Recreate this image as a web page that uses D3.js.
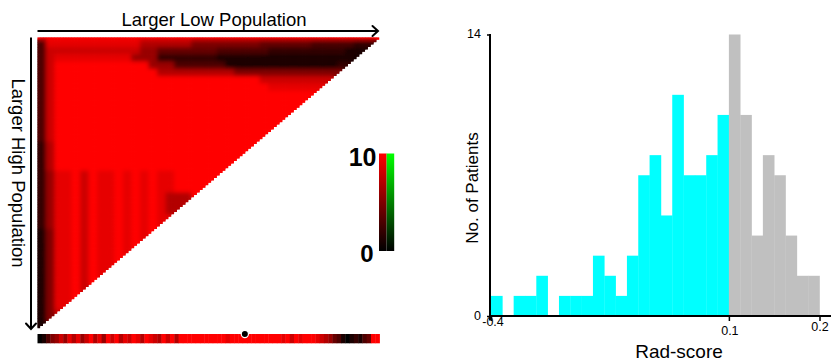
<!DOCTYPE html>
<html>
<head>
<meta charset="utf-8">
<script src="https://cdn.jsdelivr.net/npm/d3@7"></script>
<style>
  html, body { margin: 0; padding: 0; background: #fff; }
  svg { display: block; }
  svg text { font-family: 'Liberation Sans', Arial, sans-serif; }
</style>
</head>
<body>
<svg id="chart" width="832" height="364"></svg>
<script>
// ---- heatmap data (values 0-10), fine matrix 120 x 120 stored as 3x3 blocks ----
// each string is a run-length row: "v" or "v*count"
const heatTopRow = '10*40';
const heatRows = [
  '3 9*11 7*6 5*8 4*6 3*5 2*3',
  '3 8*11 6*2 4*7 3*6 2*9 1*3',
  '3 8 9*9 6*3 2*7 1*17',
  '3 8 10*11 6*3 3*6 1*13 2*2',
  '3 8 10*12 7*9 5*13',
  '3 8 10*24 8*9',
  '3 8 10*25 9*7',
  '3 8 10*31',
  '3 8 10*30',
  '3 8 10*29',
  '3 8 10*28',
  '3 8 10*27',
  '3 8 10*26',
  '3 8 10*25',
  '2 7 10*24',
  '2 7 10*23',
  '2 7 10*22',
  '2 7 10*21',
  '2 6 9 9 10 8 10 9 9 10 9 10 9 10 9 9 10 10*5',
  '2 6 9 9 10 8 10 9 9 10 9 10 9 10 9 9 10 10*4',
  '2 6 9 9 10 8 10 9 9 10 9 10 9 10 9 9 10 10*3',
  '2 6 9 9 10 8 10 9 9 10 9 10 9 10 9 7 7 7 10',
  '2 6 9 9 10 8 10 9 9 10 9 10 9 10 9 7 7 7',
  '2 6 9 9 10 8 10 9 9 10 9 10 9 10 9 7 7',
  '2 6 9 9 10 8 10 9 9 10 9 10 9 10 9 9',
  '2 6 9 9 10 8 10 9 9 10 9 10 9 10 9',
  '1 5 9 9 10 8 10 9 9 10 9 10 9 10',
  '1 5 9 9 10 8 10 9 9 10 9 10 9',
  '1 5 9 9 10 8 10 9 9 10 9 10',
  '1 5 9 9 10 8 10 9 9 10 9',
  '1 5 9 9 10 8 10 9 9 10',
  '1 5 9 9 10 8 10 9 9',
  '1 5 9 9 10 8 10 9',
  '1 5 9 9 10 8 10',
  '1 5 9 9 10 8',
  '1 5 9 9 10',
  '1 5 9 9',
  '1 5 8',
  '1 5',
  '1'
];

// one-dimensional strip under the triangle
const stripValues = [
  0, 1, 3, 5, 6, 8, 6, 9, 7, 9,
  6, 8, 10, 7, 9, 6, 10, 8, 10, 7,
  9, 8, 10, 9, 7, 10, 9, 8, 7, 10,
  8, 10, 7, 10, 10, 10, 10, 10, 10, 10,
  10, 10, 10, 10, 9, 10, 10, 10, 10, 10,
  10, 10, 10, 10, 10, 10, 10, 9, 10, 8,
  10, 9, 10, 10, 10, 9, 8, 7, 6, 4,
  3, 1, 0, 1, 2, 1, 3, 4, 10, 10
];
const bestCutIndex = 48;
const colorbarLabels = ['10', '0'];

// ---- histogram data ----
const lowRiskCounts = [1, 0, 1, 1, 2, 0, 1, 1, 1, 3, 2, 1, 3, 7, 8, 5, 11, 7, 7, 8, 10];
const highRiskCounts = [14, 10, 4, 8, 7, 4, 2, 2];
const radTickIndex = [0, 21, 29];
const radTickLabels = ['-0.4', '0.1', '0.2'];
const countTicks = [0, 14];

function expandRow(spec) {
  const out = [];
  spec.trim().split(/\s+/).forEach((token) => {
    const parts = token.split('*');
    const n = parts[1] ? Number(parts[1]) : 1;
    for (let k = 0; k < n; k++) out.push(Number(parts[0]));
  });
  return out;
}

const svg = d3.select('#chart');
const color = d3.scaleLinear().domain([0, 10]).range(['#000000', '#ff0000']);

// ===== left panel: triangle heatmap =====
const N = 120;
const block = 3;
const hxCell = d3.scaleLinear().domain([0, N]).range([37.3, 379.3]);
const hyCell = d3.scaleLinear().domain([0, N]).range([37.3, 328.3]);

const topRow = expandRow(heatTopRow);
const coarse = heatRows.map(expandRow);
const cells = [];
for (let i = 0; i < N; i++) {
  for (let j = 0; j < N - i; j++) {
    const v = i === 0 ? topRow[Math.floor(j / block)] : (coarse[Math.floor((i - 1) / block)] || [])[Math.floor(j / block)];
    if (v !== undefined) cells.push({ i, j, v });
  }
}

const defs = svg.append('defs');
const triPts = [[hxCell(0), hyCell(0)]];
for (let i = 0; i < N; i++) {
  triPts.push([hxCell(N - i), hyCell(i)], [hxCell(N - i), hyCell(i + 1)]);
}
triPts.push([hxCell(0), hyCell(N)]);
defs.append('clipPath').attr('id', 'tri-clip')
  .append('polygon').attr('points', triPts.map((p) => p.join(',')).join(' '));
defs.append('filter').attr('id', 'soft')
  .attr('x', '-5%').attr('y', '-5%').attr('width', '110%').attr('height', '110%')
  .append('feGaussianBlur').attr('stdDeviation', 2.2);

function drawCells(parent) {
  parent.selectAll('rect')
    .data(cells)
    .enter()
    .append('rect')
    .attr('x', (d) => hxCell(d.j))
    .attr('y', (d) => hyCell(d.i))
    .attr('width', hxCell(1) - hxCell(0) + 0.4)
    .attr('height', hyCell(1) - hyCell(0) + 0.4)
    .attr('fill', (d) => color(d.v));
}

const heat = svg.append('g').attr('clip-path', 'url(#tri-clip)');
drawCells(heat.append('g'));
drawCells(heat.append('g').attr('filter', 'url(#soft)'));

// strip
const sx = d3.scaleLinear().domain([0, stripValues.length]).range([37.5, 379.5]);
const strip = svg.append('g');
strip.selectAll('rect')
  .data(stripValues)
  .enter()
  .append('rect')
  .attr('x', (d, k) => sx(k))
  .attr('y', 334)
  .attr('width', sx(1) - sx(0) + 0.4)
  .attr('height', 9.3)
  .attr('fill', (d) => color(d));

svg.append('circle')
  .attr('cx', sx(bestCutIndex + 0.5))
  .attr('cy', 334)
  .attr('r', 3.6)
  .attr('fill', '#000')
  .attr('stroke', '#fff')
  .attr('stroke-width', 1.2);

// arrows
svg.append('line').attr('x1', 37.5).attr('y1', 31).attr('x2', 378).attr('y2', 31)
  .attr('stroke', '#000').attr('stroke-width', 2);
svg.append('path').attr('d', 'M372.5,26 L378,31 L372.5,36')
  .attr('fill', 'none').attr('stroke', '#000').attr('stroke-width', 2).attr('stroke-linecap', 'round');
svg.append('line').attr('x1', 31).attr('y1', 37.5).attr('x2', 31).attr('y2', 329)
  .attr('stroke', '#000').attr('stroke-width', 2);
svg.append('path').attr('d', 'M26,323.5 L31,329 L36,323.5')
  .attr('fill', 'none').attr('stroke', '#000').attr('stroke-width', 2).attr('stroke-linecap', 'round');

svg.append('text')
  .attr('x', 214).attr('y', 25.5)
  .attr('text-anchor', 'middle')
  .attr('font-size', 18.5)
  .text('Larger Low Population');
svg.append('text')
  .attr('transform', 'translate(11.5,173) rotate(90)')
  .attr('text-anchor', 'middle')
  .attr('font-size', 18.5)
  .text('Larger High Population');

// colour bar
const cbY = d3.scaleLinear().domain([0, 10]).range([251, 153.5]);
[['cb-red', '#ff0000'], ['cb-green', '#00ff00']].forEach(([id, top]) => {
  const grad = defs.append('linearGradient').attr('id', id)
    .attr('x1', 0).attr('y1', 1).attr('x2', 0).attr('y2', 0);
  grad.append('stop').attr('offset', 0).attr('stop-color', '#000');
  grad.append('stop').attr('offset', 1).attr('stop-color', top);
});
svg.append('rect').attr('x', 379).attr('y', cbY(10)).attr('width', 7.6)
  .attr('height', cbY(0) - cbY(10)).attr('fill', 'url(#cb-red)');
svg.append('rect').attr('x', 386.6).attr('y', cbY(10)).attr('width', 7.6)
  .attr('height', cbY(0) - cbY(10)).attr('fill', 'url(#cb-green)');
svg.append('text').attr('x', 376.5).attr('y', cbY(10) + 12.5)
  .attr('text-anchor', 'end').attr('font-size', 25).attr('font-weight', 'bold')
  .attr('font-family', 'Liberation Sans, Arial, sans-serif')
  .text(colorbarLabels[0]);
svg.append('text').attr('x', 373.5).attr('y', cbY(0) + 11)
  .attr('text-anchor', 'end').attr('font-size', 24).attr('font-weight', 'bold')
  .attr('font-family', 'Liberation Sans, Arial, sans-serif')
  .text(colorbarLabels[1]);

// ===== right panel: histogram =====
const bins = lowRiskCounts.map((c) => ({ c, fill: '#00ffff' }))
  .concat(highRiskCounts.map((c) => ({ c, fill: '#c0c0c0' })));
const x = d3.scaleLinear().domain([0, bins.length]).range([491, 819.5]);
const y = d3.scaleLinear().domain([0, 14]).range([316, 34.5]);

svg.append('g').selectAll('rect')
  .data(bins)
  .enter()
  .append('rect')
  .attr('x', (d, i) => x(i))
  .attr('y', (d) => y(d.c))
  .attr('width', x(1) - x(0) + 0.3)
  .attr('height', (d) => y(0) - y(d.c))
  .attr('fill', (d) => d.fill);

const yAxis = svg.append('g')
  .attr('transform', 'translate(490,0)')
  .call(d3.axisLeft(y).tickValues(countTicks).tickSize(3).tickSizeOuter(0).tickPadding(6));
yAxis.attr('font-family', null).attr('font-size', 12.5);
yAxis.select('.domain').remove();
yAxis.selectAll('line').attr('stroke-width', 1.5);
yAxis.selectAll('text').attr('fill', '#000').attr('dy', '0.25em');
svg.append('line').attr('x1', 490).attr('y1', 34).attr('x2', 490).attr('y2', 320.5)
  .attr('stroke', '#000').attr('stroke-width', 2);

const labelShift = [-7, 2, -2];
const labelNudge = [1.5, 0.5, 0];
const xAxis = svg.append('g')
  .attr('transform', 'translate(0,316)')
  .call(d3.axisBottom(x).tickValues(radTickIndex)
    .tickFormat((d, i) => radTickLabels[i]).tickSize(5).tickSizeOuter(0));
xAxis.attr('font-family', null).attr('font-size', 12.5);
xAxis.select('.domain').remove();
xAxis.selectAll('line').attr('stroke-width', 1.5);
xAxis.selectAll('text')
  .attr('fill', '#000')
  .attr('dx', (d, i) => labelNudge[i])
  .attr('y', (d, i) => 8 + labelShift[i]);
svg.append('line').attr('x1', 489).attr('y1', 316).attr('x2', 831).attr('y2', 316)
  .attr('stroke', '#000').attr('stroke-width', 2);

svg.append('text')
  .attr('x', 679).attr('y', 358)
  .attr('text-anchor', 'middle')
  .attr('font-size', 19)
  .text('Rad-score');
svg.append('text')
  .attr('transform', 'translate(477.5,188) rotate(-90)')
  .attr('text-anchor', 'middle')
  .attr('font-size', 17)
  .text('No. of Patients');
</script>
</body>
</html>
